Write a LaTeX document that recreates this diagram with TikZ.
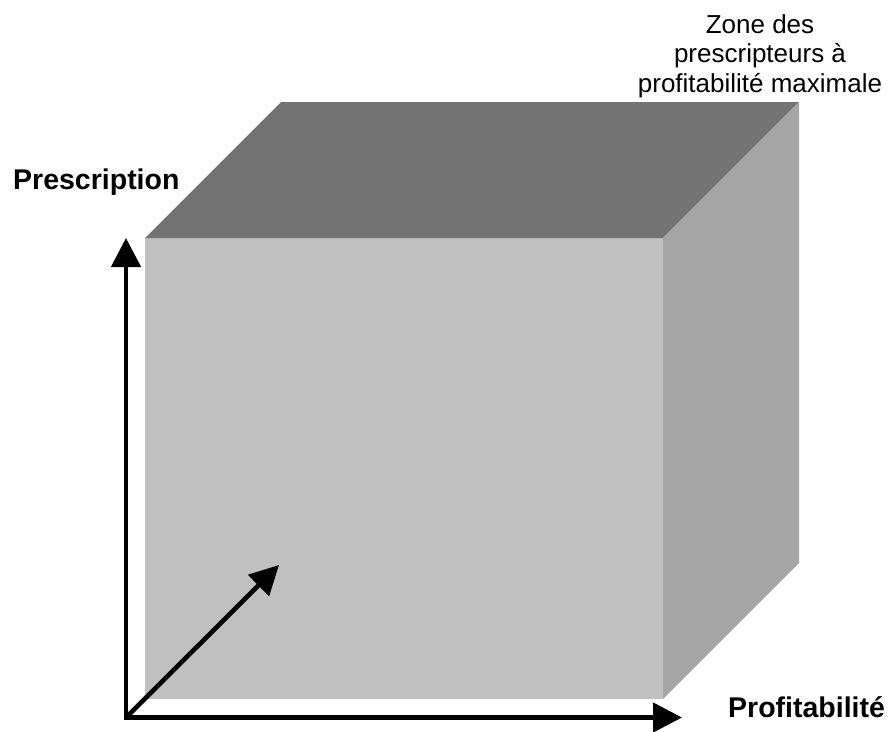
\documentclass[tikz,border=0pt]{standalone}
\usepackage{fontspec}
\setmainfont{Liberation Sans}
\usetikzlibrary{arrows.meta}
\definecolor{frontgray}{RGB}{192,192,192}
\definecolor{topgray}{RGB}{115,115,115}
\definecolor{sidegray}{RGB}{166,166,166}
\begin{document}
\begin{tikzpicture}[x=1pt,y=-1pt,
  axis/.style={line width=4.6pt, line join=miter, {Triangle[length=29pt,width=29pt]}-{Triangle[length=29pt,width=29pt]}},
  diagarrow/.style={line width=4.6pt, -{Triangle[length=29pt,width=29pt]}},
  boldlabel/.style={inner sep=0pt, font=\fontsize{28.5}{32}\selectfont\bfseries},
  zonelabel/.style={inner sep=0pt, align=center, font=\fontsize{26}{29.5}\selectfont}]
\useasboundingbox (0,0) rectangle (890,731);
% cube corners
\coordinate (fTL) at (145,238);
\coordinate (fTR) at (663,238);
\coordinate (fBL) at (145,699);
\coordinate (fBR) at (663,699);
\coordinate (bTL) at (281,102);
\coordinate (bTR) at (799,102);
\coordinate (bBR) at (799,563);
% faces
\fill[frontgray] (fTL) -- (fTR) -- (fBR) -- (fBL) -- cycle;
\fill[topgray] (fTL) -- (bTL) -- (bTR) -- (fTR) -- cycle;
\fill[sidegray] (fTR) -- (bTR) -- (bBR) -- (fBR) -- cycle;
% axes
\coordinate (o) at (126,717.5);
\coordinate (ytip) at (126,238);
\coordinate (xtip) at (682,717.5);
\coordinate (ztip) at (279,565);
\draw[axis] (ytip) -- (o) -- (xtip);
\draw[diagarrow] (o) -- (ztip);
% labels
\node[boldlabel, anchor=base west] (prescription) at (13,189) {Prescription};
\node[boldlabel, anchor=base west] (profitabilite) at (728,717) {Profitabilité};
\node[zonelabel, anchor=base] (zone) at (760,92) {Zone des\\prescripteurs à\\profitabilité maximale};
\end{tikzpicture}
\end{document}
